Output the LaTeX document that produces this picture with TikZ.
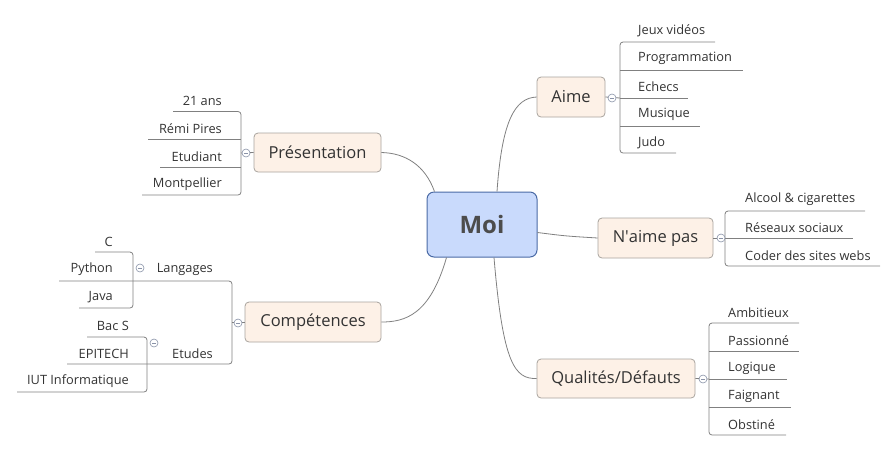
\documentclass[tikz,border=0pt]{standalone}
\usepackage{fontspec}
\setmainfont{Open Sans}
\definecolor{linec}{HTML}{808080}
\definecolor{topicfill}{HTML}{FDF1E7}
\definecolor{topicdraw}{HTML}{A8A39E}
\definecolor{moifill}{HTML}{C9DAFC}
\definecolor{moidraw}{HTML}{4A6AA5}
\definecolor{txt}{HTML}{333333}
\definecolor{circ}{HTML}{8A93A8}
\tikzset{
  conn/.style={draw=linec, line width=0.8pt},
  topic/.style={draw=topicdraw, fill=topicfill, rounded corners=4pt, line width=0.8pt, inner sep=0pt, text=txt, font=\fontsize{16.5}{19}\selectfont},
  moibox/.style={draw=moidraw, fill=moifill, rounded corners=7pt, line width=1pt, inner sep=0pt, text=black!70, font=\fontsize{24}{28}\selectfont\bfseries},
  leafl/.style={anchor=west, inner sep=0pt, text=txt, font=\fontsize{12.8}{15}\selectfont},
  leafr/.style={anchor=east, inner sep=0pt, text=txt, font=\fontsize{12.8}{15}\selectfont},
  tog/.style={draw=circ, fill=white, circle, minimum size=8pt, inner sep=0pt, line width=0.6pt,
    path picture={\draw[circ, line width=0.6pt] ([xshift=-2pt]path picture bounding box.center) -- ([xshift=2pt]path picture bounding box.center);}},
}
\begin{document}
\begin{tikzpicture}[x=1pt, y=-1pt]
\useasboundingbox (0,0) rectangle (896,451);

% central and topics
\node[moibox, minimum width=110pt, minimum height=65pt] (moi) at (482,224.5) {Moi};
\node[topic, minimum width=68pt, minimum height=40pt] (aime) at (571,97) {\raisebox{-1pt}{Aime}};
\node[topic, minimum width=115pt, minimum height=40pt] (naime) at (655.5,238) {\raisebox{-1pt}{N\textquotesingle aime pas}};
\node[topic, minimum width=158pt, minimum height=39pt] (qual) at (616,378.5) {\raisebox{-1pt}{Qualités/Défauts}};
\node[topic, minimum width=127pt, minimum height=39pt] (pres) at (317.5,152.5) {\raisebox{-1pt}{Présentation}};
\node[topic, minimum width=136pt, minimum height=40pt] (comp) at (313,322) {\raisebox{-1pt}{Compétences}};

% main connectors
\draw[conn] ([xshift=15pt]moi.north) .. controls (502,120) and (515,98) .. (aime.west);
\draw[conn] ([yshift=-8pt]moi.east) .. controls (565,236) .. (naime.west);
\draw[conn] ([xshift=12pt]moi.south) .. controls (503,365) and (515,379) .. (qual.west);
\draw[conn] ([xshift=8pt]moi.north west) .. controls (425,165) and (405,153) .. (pres.east);
\draw[conn] ([xshift=20pt]moi.south west) .. controls (430,315) and (405,322) .. (comp.east);

% ---------- Aime ----------
\coordinate (ab) at (620,98);
\draw[conn] (aime.east) -- (ab);
\draw[conn, rounded corners=3pt] (715,42) -- (620,42) -- (620,153) -- (676,153);
\draw[conn] (620,70) -- (743,70);
\draw[conn] (620,98) -- (688,98);
\draw[conn] (620,126) -- (700,126);
\node[leafl] (a1) at (638,30.5) {Jeux vidéos};
\node[leafl] (a2) at (638,58.5) {Programmation};
\node[leafl] (a3) at (638,86.5) {Echecs};
\node[leafl] (a4) at (638,114.5) {Musique};
\node[leafl] (a5) at (638,142.5) {Judo};
\node[tog] (ta) at (612,98) {};

% ---------- N'aime pas ----------
\coordinate (nb) at (725,238);
\draw[conn] (naime.east) -- (nb);
\draw[conn, rounded corners=3pt] (865,211) -- (725,211) -- (725,266) -- (880,266);
\draw[conn] (725,238) -- (853,238);
\node[leafl] (n1) at (745,199.5) {Alcool \& cigarettes};
\node[leafl] (n2) at (745,227.5) {Réseaux sociaux};
\node[leafl] (n3) at (745,255.5) {Coder des sites webs};
\node[tog] (tn) at (721,238) {};

% ---------- Qualités ----------
\coordinate (qb) at (709,379);
\draw[conn] (qual.east) -- (qb);
\draw[conn, rounded corners=3pt] (799,323) -- (709,323) -- (709,435) -- (786,435);
\draw[conn] (709,351.5) -- (799,351.5);
\draw[conn] (709,379) -- (787,379);
\draw[conn] (709,407) -- (791,407);
\node[leafl] (q1) at (728,312.5) {Ambitieux};
\node[leafl] (q2) at (728,340.5) {Passionné};
\node[leafl] (q3) at (728,368.5) {Logique};
\node[leafl] (q4) at (728,396.5) {Faignant};
\node[leafl] (q5) at (728,424.5) {Obstiné};
\node[tog] (tq) at (703,379) {};

% ---------- Présentation ----------
\coordinate (pb) at (241,153);
\draw[conn] (pres.west) -- (pb);
\draw[conn, rounded corners=3pt] (173,111.5) -- (241,111.5) -- (241,195) -- (142,195);
\draw[conn] (148,139.5) -- (241,139.5);
\draw[conn] (160,167) -- (241,167);
\node[leafr] (p1) at (222,100.5) {21 ans};
\node[leafr] (p2) at (222,128.5) {Rémi Pires};
\node[leafr] (p3) at (222,156.5) {Etudiant};
\node[leafr] (p4) at (222,184.5) {Montpellier};
\node[tog] (tp) at (246,153) {};

% ---------- Compétences ----------
\coordinate (cb) at (232,322);
\draw[conn] (comp.west) -- (cb);
\draw[conn, rounded corners=3pt] (59,281) -- (232,281) -- (232,364) -- (67,364);
\node[leafr] (lang) at (213,269.5) {Langages};
\node[leafr] (etud) at (213,353.5) {Etudes};
\node[tog] (tc) at (238,323) {};

% Langages children
\draw[conn, rounded corners=3pt] (95,252) -- (133,252) -- (133,308) -- (79,308);
\node[leafr] (l1) at (113,241.5) {C};
\node[leafr] (l2) at (113,269.5) {Python};
\node[leafr] (l3) at (113,297.5) {Java};
\node[tog] (tl) at (140,268) {};

% Etudes children
\draw[conn, rounded corners=3pt] (87,337) -- (147,337) -- (147,392) -- (17,392);
\node[leafr] (e1) at (129,325.5) {Bac S};
\node[leafr] (e2) at (129,353.5) {EPITECH};
\node[leafr] (e3) at (129,381.5) {IUT Informatique};
\node[tog] (te) at (154,343) {};
\end{tikzpicture}
\end{document}
